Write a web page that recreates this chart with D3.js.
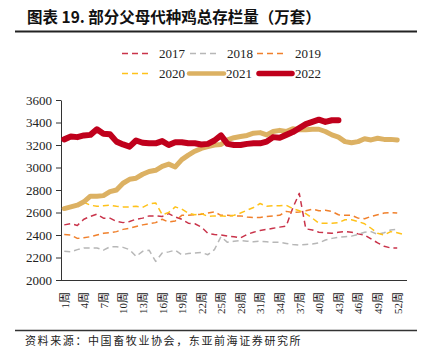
<!DOCTYPE html>
<html>
<head>
<meta charset="utf-8">
<script src="https://cdn.jsdelivr.net/npm/d3@7"></script>
<style>
  html, body { margin: 0; padding: 0; background: #fff; }
  svg { display: block; }
  .serif { font-family: "Liberation Serif", "Times New Roman", serif; }
  .cjk { font-family: "Noto Sans CJK SC", sans-serif; }
</style>
</head>
<body>
<svg id="chart" width="428" height="362"></svg>
<script>
// weeks 1..53 on the category axis, label every third week
var weeks = d3.range(1, 54);
var tickWeeks = [1, 4, 7, 10, 13, 16, 19, 22, 25, 28, 31, 34, 37, 40, 43, 46, 49, 52];
var yTicks = [2000, 2200, 2400, 2600, 2800, 3000, 3200, 3400, 3600];
var seriesNames = ['2017', '2018', '2019', '2020', '2021', '2022'];

var v2017 = [2490, 2500, 2485, 2540, 2565, 2585, 2550, 2550, 2520, 2510,
  2520, 2540, 2550, 2570, 2570, 2565, 2590, 2560, 2540, 2505,
  2500, 2470, 2415, 2405, 2400, 2390, 2385, 2375, 2405, 2425,
  2440, 2450, 2460, 2470, 2480, 2640, 2770, 2455, 2445, 2425,
  2420, 2415, 2425, 2430, 2425, 2410, 2400, 2365, 2330, 2300,
  2285, 2285];
var v2018 = [2255, 2250, 2270, 2285, 2285, 2285, 2265, 2295, 2295, 2290,
  2270, 2210, 2255, 2265, 2165, 2240, 2250, 2265, 2225, 2235,
  2240, 2245, 2225, 2270, 2385, 2335, 2345, 2350, 2345, 2340,
  2345, 2340, 2335, 2335, 2325, 2315, 2310, 2315, 2320, 2330,
  2355, 2370, 2380, 2385, 2390, 2405, 2425, 2430, 2405, 2420,
  2445, 2450];
var v2019 = [2405, 2400, 2370, 2375, 2385, 2400, 2415, 2420, 2430, 2450,
  2460, 2475, 2490, 2500, 2510, 2540, 2515, 2525, 2575, 2575,
  2580, 2585, 2595, 2605, 2575, 2575, 2570, 2570, 2560, 2555,
  2555, 2565, 2570, 2575, 2610, 2600, 2605, 2615, 2630, 2615,
  2620, 2610, 2580, 2575, 2575, 2550, 2545, 2565, 2580, 2595,
  2600, 2595];
var v2020 = [2645, 2655, 2670, 2690, 2665, 2655, 2660, 2665, 2655, 2650,
  2650, 2655, 2645, 2675, 2685, 2580, 2600, 2650, 2630, 2595,
  2580, 2590, 2565, 2570, 2570, 2565, 2575, 2595, 2620, 2645,
  2680, 2655, 2660, 2660, 2665, 2635, 2615, 2590, 2550, 2505,
  2505, 2505, 2510, 2535, 2535, 2520, 2500, 2460, 2415, 2400,
  2430, 2420, 2405];
var v2021 = [2635, 2650, 2665, 2695, 2745, 2745, 2750, 2785, 2800, 2860,
  2895, 2905, 2940, 2965, 2975, 3010, 3030, 3005, 3070, 3110,
  3145, 3170, 3185, 3200, 3205, 3245, 3265, 3275, 3285, 3305,
  3310, 3290, 3320, 3330, 3320, 3345, 3335, 3335, 3340, 3340,
  3320, 3290, 3270, 3230, 3220, 3230, 3255, 3245, 3260, 3250,
  3250, 3245];
var v2022 = [3250, 3275, 3270, 3285, 3290, 3340, 3300, 3295, 3230, 3205,
  3185, 3240, 3220, 3215, 3215, 3235, 3200, 3225, 3225, 3215,
  3215, 3205, 3210, 3240, 3285, 3210, 3200, 3200, 3210, 3215,
  3215, 3230, 3270, 3265, 3290, 3315, 3350, 3385, 3405, 3425,
  3405, 3420, 3420];

var seriesValues = [v2017, v2018, v2019, v2020, v2021, v2022];
var seriesColors = ['#c9334a', '#b7b7b7', '#f0802c', '#ffc21a', '#dcb163', '#c0001c'];
var seriesWidths = [1.5, 1.5, 1.5, 1.5, 5, 6];
var seriesDash = ['6,4', '6,4', '6,4', '6,4', null, null];
// legend swatch start / end and label x, per series
var legendLine = [[122, 150], [190, 219], [257, 287], [122, 150], [189, 224], [259, 292]];
var legendText = [159, 227, 295, 159, 226, 295];

(function(){
  var svg = d3.select('#chart'),
      left = 61, right = 407, top = 100, bottom = 280;

  var x = d3.scalePoint().domain(weeks).range([left, right]).padding(0.5),
      y = d3.scaleLinear().domain([2000, 3600]).range([bottom, top]);

  // title
  svg.append('text').attr('class', 'cjk')
    .attr('x', 27).attr('y', 23)
    .attr('font-size', 15.5).attr('font-weight', 'bold').attr('fill', '#111')
    .text('图表 19. 部分父母代种鸡总存栏量（万套）');
  svg.append('line').attr('x1', 15).attr('x2', 417).attr('y1', 31.5).attr('y2', 31.5)
    .attr('stroke', '#222').attr('stroke-width', 2);

  // legend
  var legend = svg.append('g');
  seriesNames.forEach(function(name, i){
    var ly = 53.5 + Math.floor(i / 3) * 20;
    legend.append('line')
      .attr('x1', legendLine[i][0]).attr('x2', legendLine[i][1])
      .attr('y1', ly).attr('y2', ly)
      .attr('stroke', seriesColors[i])
      .attr('stroke-width', i >= 4 ? seriesWidths[i] - 0.5 : seriesWidths[i])
      .attr('stroke-linecap', i >= 4 ? 'round' : 'butt')
      .attr('stroke-dasharray', seriesDash[i]);
    legend.append('text').attr('class', 'serif')
      .attr('x', legendText[i]).attr('y', ly + 4.5)
      .attr('font-size', 13).attr('fill', '#222')
      .text(name);
  });

  // y axis
  var yAxis = svg.append('g')
    .attr('transform', 'translate(' + left + ',0)')
    .call(d3.axisLeft(y).tickValues(yTicks).tickFormat(d3.format('d'))
      .tickSize(5).tickPadding(4).tickSizeOuter(0));
  yAxis.select('.domain').attr('stroke', '#333');
  yAxis.selectAll('line').attr('stroke', '#333');
  yAxis.selectAll('text').attr('class', 'serif').attr('font-size', 13).attr('fill', '#222');

  // x axis
  var xAxis = svg.append('g')
    .attr('transform', 'translate(0,' + bottom + ')')
    .call(d3.axisBottom(x).tickValues(tickWeeks).tickSize(0).tickSizeOuter(0)
      .tickFormat(function(d){ return d + '周'; }));
  xAxis.select('.domain').attr('d', 'M' + left + ',0.5H' + right).attr('stroke', '#333');
  xAxis.selectAll('text')
    .attr('font-size', 11).attr('fill', '#222')
    .attr('font-family', '"Liberation Serif", "Noto Sans CJK SC", serif')
    .attr('transform', 'rotate(-90)')
    .attr('text-anchor', 'end').attr('dy', '0.35em')
    .attr('x', -12).attr('y', 0);

  // lines
  var line = d3.line()
    .defined(function(d){ return d != null; })
    .x(function(d, i){ return x(weeks[i]); })
    .y(function(d){ return y(d); });

  seriesValues.forEach(function(vals, i){
    svg.append('path')
      .datum(vals)
      .attr('fill', 'none')
      .attr('stroke', seriesColors[i])
      .attr('stroke-width', seriesWidths[i])
      .attr('stroke-linejoin', 'round')
      .attr('stroke-linecap', i >= 4 ? 'round' : 'butt')
      .attr('stroke-dasharray', seriesDash[i])
      .attr('d', line);
  });

  // source
  svg.append('line').attr('x1', 15).attr('x2', 417).attr('y1', 330.5).attr('y2', 330.5)
    .attr('stroke', '#333').attr('stroke-width', 1.3);
  svg.append('text').attr('class', 'cjk')
    .attr('x', 25).attr('y', 345)
    .attr('font-size', 11).attr('letter-spacing', 1.6).attr('fill', '#222')
    .text('资料来源：中国畜牧业协会，东亚前海证券研究所');
})();
</script>
</body>
</html>
